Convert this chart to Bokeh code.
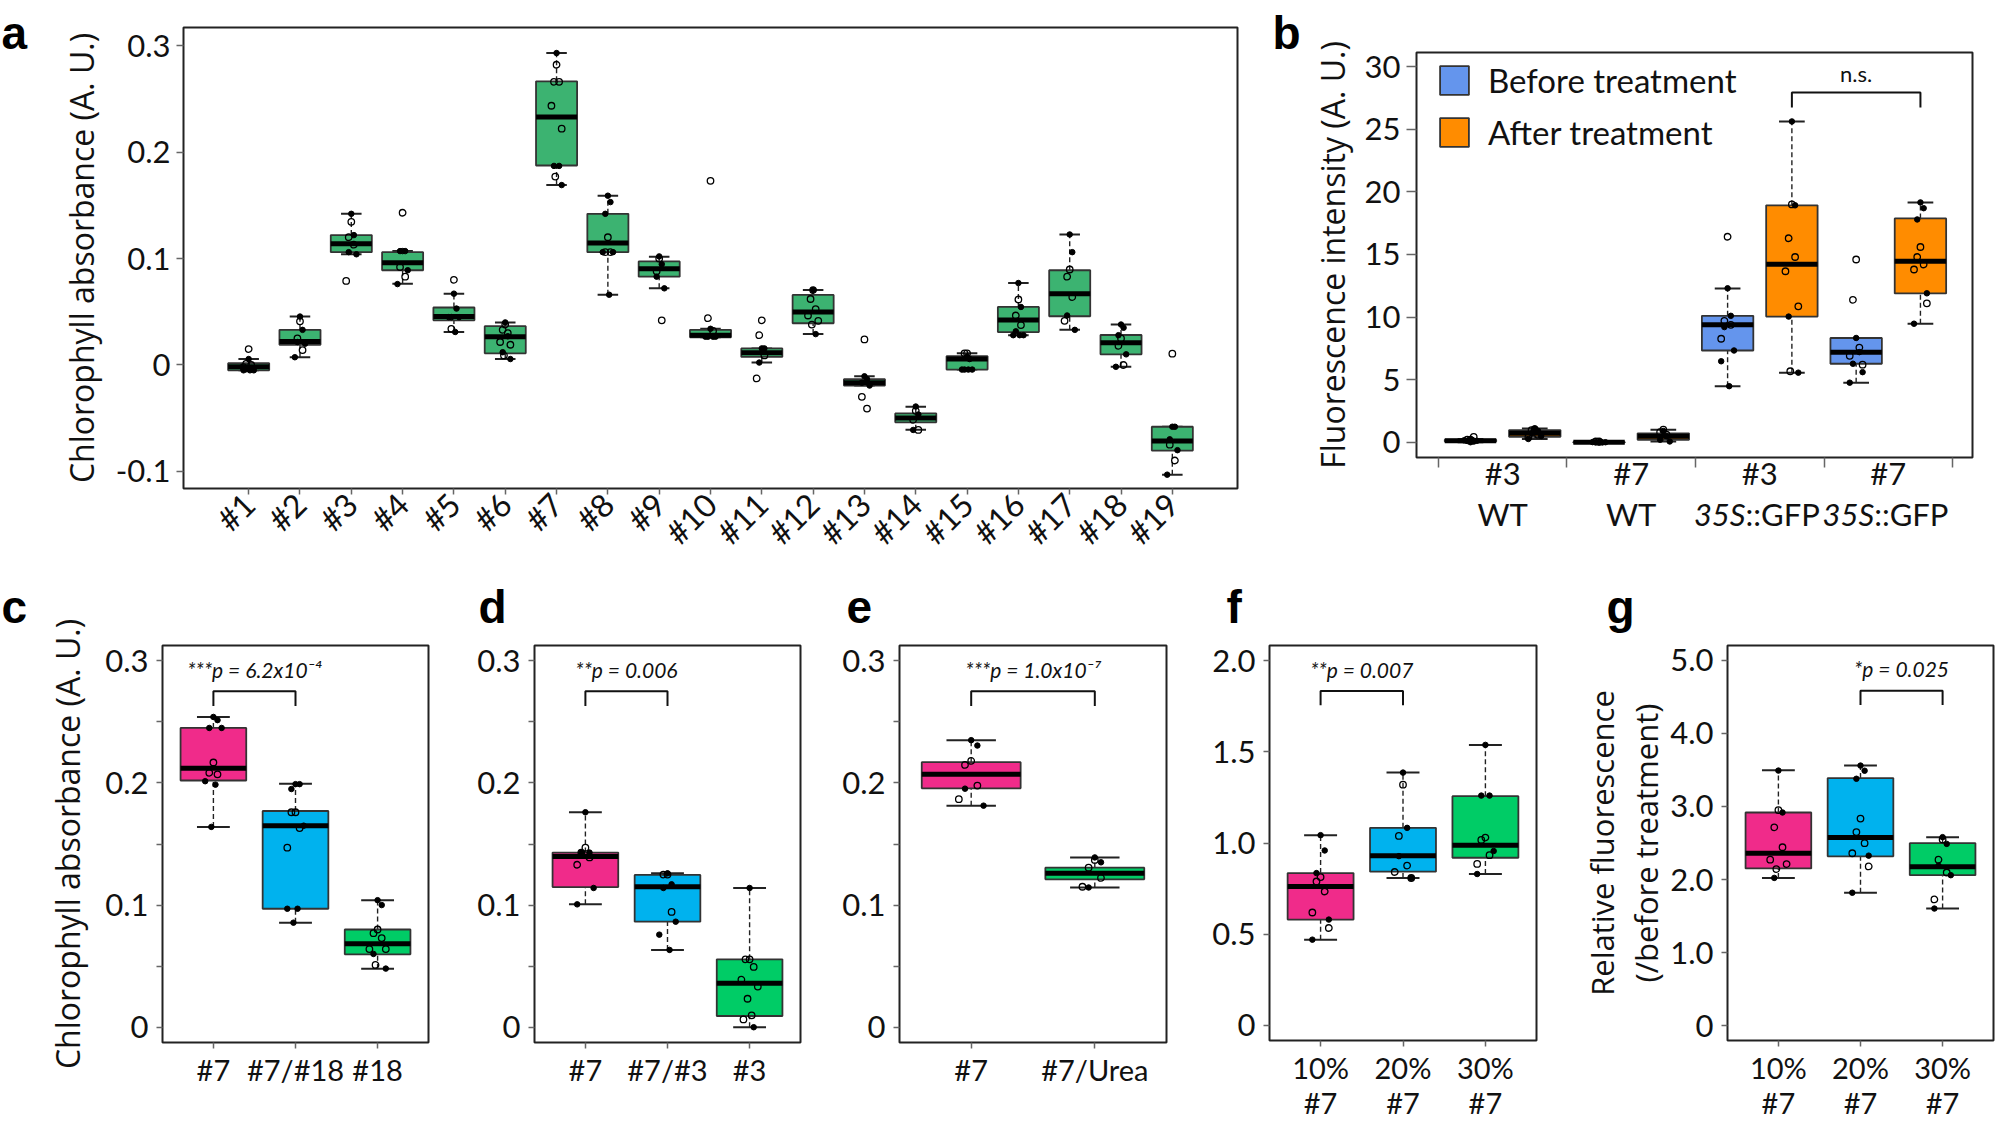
import math
from bokeh.plotting import figure
from bokeh.models import Range1d, FixedTicker, Label, Legend, LegendItem
from bokeh.layouts import row, column
from bokeh.embed import file_html
from bokeh.resources import INLINE
from bokeh.core.properties import value

# ======================= DATA =======================
# ---- panel a ----
A_LABELS = ["#1", "#2", "#3", "#4", "#5", "#6", "#7", "#8", "#9", "#10",
            "#11", "#12", "#13", "#14", "#15", "#16", "#17", "#18", "#19"]
A_LOW = [-0.005, 0.0073, 0.104, 0.0764, 0.031, 0.0056, 0.169, 0.066, 0.072, 0.026,
         0.0023, 0.029, -0.0193, -0.0608, -0.0043, 0.028, 0.0332, -0.0017, -0.103]
A_Q1 = [-0.005, 0.019, 0.106, 0.089, 0.042, 0.011, 0.1874, 0.106, 0.083, 0.026,
        0.0076, 0.0392, -0.0193, -0.0538, -0.0043, 0.0309, 0.0458, 0.010, -0.0804]
A_MED = [-0.0017, 0.022, 0.114, 0.096, 0.0455, 0.0266, 0.233, 0.1146, 0.0904, 0.028,
         0.0116, 0.0498, -0.0166, -0.0498, 0.0056, 0.0422, 0.067, 0.021, -0.0714]
A_Q3 = [0.0017, 0.033, 0.122, 0.106, 0.054, 0.0365, 0.2664, 0.142, 0.0973, 0.033,
        0.0156, 0.0658, -0.0133, -0.0455, 0.0083, 0.0545, 0.089, 0.0282, -0.058]
A_HIGH = [0.0056, 0.0455, 0.142, 0.107, 0.067, 0.040, 0.293, 0.159, 0.1017, 0.034,
          0.0156, 0.0704, -0.0106, -0.0392, 0.011, 0.077, 0.1226, 0.038, -0.058]
A_OPEN = [[0.015, 0.001, 0.0, -0.002], [0.041, 0.025, 0.014], [0.1345, 0.120, 0.113, 0.079],
          [0.143, 0.092, 0.083], [0.080, 0.034], [0.038, 0.033, 0.030, 0.0216, 0.019, 0.009],
          [0.282, 0.266, 0.266, 0.2435, 0.222, 0.177], [0.120, 0.106, 0.106], [0.100, 0.088, 0.042],
          [0.173, 0.044, 0.032], [0.042, 0.028, 0.009, -0.0126], [0.0704, 0.062, 0.0525, 0.0465, 0.0415, 0.038],
          [0.024, -0.0299, -0.0409], [-0.043, -0.0515, -0.061], [0.011, 0.011],
          [0.0615, 0.0465, 0.0375], [0.0897, 0.083, 0.0638, 0.0415], [0.025, 0.018, 0.0],
          [0.0106, -0.0748, -0.0897]]
A_FILLED = [[0.0056, -0.003, -0.004, -0.005, -0.005, -0.005], [0.0455, 0.033, 0.0216, 0.020, 0.0073],
            [0.142, 0.122, 0.106, 0.104], [0.107, 0.107, 0.107, 0.089, 0.076],
            [0.067, 0.053, 0.045, 0.045, 0.045, 0.031], [0.040, 0.027, 0.012, 0.0056],
            [0.293, 0.187, 0.187, 0.169], [0.159, 0.153, 0.142, 0.106, 0.106, 0.066],
            [0.102, 0.0947, 0.083, 0.072], [0.034, 0.0266, 0.0266, 0.0266, 0.0266],
            [0.0156, 0.0156, 0.0023], [0.0704, 0.029], [-0.0106, -0.0133, -0.0166, -0.0193],
            [-0.039, -0.0465, -0.061], [0.008, 0.0056, -0.0043, -0.0043, -0.0043, -0.0043],
            [0.077, 0.0545, 0.0316, 0.028, 0.028, 0.028], [0.1226, 0.106, 0.0465, 0.033],
            [0.038, 0.035, 0.028, 0.010, -0.0017], [-0.058, -0.058, -0.0698, -0.080, -0.103]]
A_YTICKS = [-0.1, 0, 0.1, 0.2, 0.3]
A_YLABELS = ["-0.1", "0", "0.1", "0.2", "0.3"]

# ---- panel b ----
B_GROUP_LINE1 = ["#3", "#7", "#3", "#7"]
B_GROUP_LINE2 = ["WT", "WT", "35S::GFP", "35S::GFP"]
B_BEFORE_LOW = [0.0, -0.03, 4.48, 4.76]
B_BEFORE_Q1 = [0.05, -0.02, 7.33, 6.27]
B_BEFORE_MED = [0.12, 0.0, 9.38, 7.19]
B_BEFORE_Q3 = [0.20, 0.02, 10.1, 8.33]
B_BEFORE_HIGH = [0.25, 0.03, 12.29, 8.33]
B_BEFORE_OPEN = [[0.2, 0.2, 0.43], [0.06, 0.06], [16.42, 9.7, 9.38, 8.27], [14.6, 11.38, 7.56, 6.9, 6.2]]
B_BEFORE_FILLED = [[0.0, 0.05, 0.1, 0.12, 0.15, 0.2], [-0.03, -0.02, 0.0, 0.0, 0.01, 0.02],
                   [12.3, 10.1, 9.2, 7.33, 6.47, 4.48], [8.33, 7.2, 6.27, 5.6, 4.76]]
B_AFTER_LOW = [0.26, 0.06, 5.56, 9.47]
B_AFTER_Q1 = [0.43, 0.20, 10.04, 11.89]
B_AFTER_MED = [0.71, 0.48, 14.23, 14.46]
B_AFTER_Q3 = [0.97, 0.71, 18.93, 17.88]
B_AFTER_HIGH = [1.10, 1.0, 25.63, 19.16]
B_AFTER_OPEN = [[1.05, 0.97, 0.6, 0.4], [1.0, 0.8, 0.6], [19.0, 16.3, 14.8, 13.66, 10.86, 5.67],
                [15.6, 14.8, 14.2, 13.8, 11.1]]
B_AFTER_FILLED = [[1.1, 0.9, 0.71, 0.5, 0.26], [0.9, 0.48, 0.2, 0.06], [25.63, 18.93, 10.04, 5.56],
                  [19.16, 18.7, 17.8, 11.9, 9.47]]
B_YTICKS = [0, 5, 10, 15, 20, 25, 30]
B_NS_Y = [26.75, 27.95]

# ---- panel c ----
C_LABELS = ["#7", "#7/#18", "#18"]
C_LOW = [0.164, 0.0856, 0.0478]
C_Q1 = [0.202, 0.097, 0.0597]
C_MED = [0.212, 0.165, 0.0683]
C_Q3 = [0.245, 0.177, 0.080]
C_HIGH = [0.254, 0.1994, 0.104]
C_OPEN = [[0.2167, 0.2083, 0.207], [0.176, 0.176, 0.163, 0.147], [0.080, 0.077, 0.073, 0.064, 0.064, 0.051]]
C_FILLED = [[0.254, 0.2514, 0.245, 0.245, 0.2014, 0.1986, 0.164], [0.199, 0.199, 0.195, 0.165, 0.097, 0.097, 0.0856],
            [0.104, 0.100, 0.060, 0.048]]
C_P = "***p = 6.2x10\u207b\u2074"

# ---- panel d ----
D_LABELS = ["#7", "#7/#3", "#3"]
D_LOW = [0.1006, 0.0633, 0.0]
D_Q1 = [0.1147, 0.0864, 0.0092]
D_MED = [0.1397, 0.115, 0.0361]
D_Q3 = [0.143, 0.1247, 0.0556]
D_HIGH = [0.176, 0.126, 0.114]
D_OPEN = [[0.147, 0.143, 0.139, 0.133], [0.125, 0.125, 0.0944],
          [0.0556, 0.0556, 0.0494, 0.0389, 0.0333, 0.0233, 0.0097, 0.0064]]
D_FILLED = [[0.176, 0.143, 0.143, 0.114, 0.1006], [0.126, 0.117, 0.114, 0.0864, 0.0758, 0.0633], [0.114, 0.0]]
D_P = "**p = 0.006"

# ---- panel e ----
E_LABELS = ["#7", "#7/Urea"]
E_LOW = [0.1814, 0.1144]
E_Q1 = [0.1956, 0.1211]
E_MED = [0.207, 0.126]
E_Q3 = [0.217, 0.1306]
E_HIGH = [0.235, 0.139]
E_OPEN = [[0.218, 0.2147, 0.1978, 0.1867], [0.137, 0.1306, 0.1222, 0.115]]
E_FILLED = [[0.235, 0.2306, 0.1953, 0.1814], [0.139, 0.135, 0.1144]]
E_P = "***p = 1.0x10\u207b\u2077"

# ---- panel f ----
F_LABELS = ["10%\n#7", "20%\n#7", "30%\n#7"]
F_LOW = [0.4695, 0.808, 0.83]
F_Q1 = [0.58, 0.843, 0.919]
F_MED = [0.7616, 0.93, 0.987]
F_Q3 = [0.835, 1.083, 1.257]
F_HIGH = [1.0425, 1.386, 1.538]
F_OPEN = [[0.813, 0.789, 0.734, 0.619, 0.534], [1.32, 1.039, 0.876, 0.841, 0.808], [1.03, 1.017, 0.933, 0.885]]
F_FILLED = [[1.043, 0.959, 0.835, 0.58, 0.47], [1.386, 1.083, 0.928, 0.808], [1.538, 1.26, 1.26, 0.956, 0.83]]
F_P = "**p = 0.007"

# ---- panel g ----
G_LABELS = ["10%\n#7", "20%\n#7", "30%\n#7"]
G_LOW = [2.023, 1.82, 1.604]
G_Q1 = [2.152, 2.318, 2.06]
G_MED = [2.359, 2.576, 2.175]
G_Q3 = [2.917, 3.387, 2.498]
G_HIGH = [3.493, 3.558, 2.58]
G_OPEN = [[2.95, 2.714, 2.442, 2.272, 2.212, 2.143], [2.834, 2.65, 2.498, 2.36, 2.18], [2.548, 2.272, 2.097, 1.728]]
G_FILLED = [[3.49, 2.917, 2.023], [3.558, 3.488, 3.378, 2.327, 1.82], [2.58, 2.488, 2.189, 2.06, 1.604]]
G_P = "*p = 0.025"

CHL_TICKS = [0, 0.05, 0.1, 0.15, 0.2, 0.25, 0.3]
CHL_TICK_LABELS = ["0", "", "0.1", "", "0.2", "", "0.3"]
F_TICKS = [0, 0.5, 1.0, 1.5, 2.0]
F_TICK_LABELS = ["0", "0.5", "1.0", "1.5", "2.0"]
G_TICKS = [0, 1, 2, 3, 4, 5]
G_TICK_LABELS = ["0", "1.0", "2.0", "3.0", "4.0", "5.0"]

PANEL_LETTERS = ["a", "b", "c", "d", "e", "f", "g"]

# ======================= STYLE / LAYOUT =======================
A_COLOR = "#3CB371"
BEFORE_COLOR = "#6495ED"
AFTER_COLOR = "#FF8C00"
TRIO = ["#F02B8A", "#00B2EE", "#00CC66"]
DUO = ["#F02B8A", "#00CC66"]
TICK_FONT = "Lato"
TITLE_FONT = "Open Sans"
LETTER_FONT = "Liberation Sans"
JIT = [0.0, -0.05, 0.05, -0.1, 0.1, -0.025, 0.025, -0.075, 0.075]
TOTAL_W = 1995
ROW1_H = 568
ROW2_H = 554
TOTAL_H = ROW1_H + ROW2_H
A_W = 1272


def make_fig(w, h, bl, br, bt, bb, xr, yr):
    p = figure(width=w, height=h, min_border_left=bl, min_border_right=br,
               min_border_top=bt, min_border_bottom=bb, title=None,
               x_range=Range1d(*xr), y_range=Range1d(*yr),
               output_backend="svg", toolbar_location=None, tools="")
    p.xgrid.visible = False
    p.ygrid.visible = False
    p.outline_line_color = "#222222"
    p.outline_line_width = 2
    p.outline_line_alpha = 1
    p.background_fill_color = "white"
    p.border_fill_color = None
    for ax in (p.xaxis[0], p.yaxis[0]):
        ax.axis_line_color = None
        ax.major_tick_line_color = "#666666"
        ax.major_tick_line_width = 1.5
        ax.major_tick_in = 0
        ax.major_tick_out = 7
        ax.minor_tick_line_color = None
        ax.major_label_text_font = TICK_FONT
        ax.major_label_text_color = "#111111"
        ax.major_label_text_font_size = "31px"
        ax.axis_label_text_font = TITLE_FONT
        ax.axis_label_text_font_style = "normal"
        ax.axis_label_text_color = "#111111"
        ax.axis_label_text_font_size = "32px"
    spec = dict(fw=w - bl - br, fh=h - bt - bb, bl=bl, bt=bt, xr=xr, yr=yr)
    return p, spec


def data_x_to_canvas(spec, x):
    x0, x1 = spec["xr"]
    return spec["bl"] + (x - x0) / (x1 - x0) * spec["fw"]


def draw_boxes(p, xs, low, q1, med, q3, high, color, opens, filleds, width=0.8):
    half = width / 2
    cap = width / 4
    p.segment(x0=xs, y0=q3, x1=xs, y1=high, line_color="#222222", line_width=1.4, line_dash="5 3")
    p.segment(x0=xs, y0=low, x1=xs, y1=q1, line_color="#222222", line_width=1.4, line_dash="5 3")
    p.segment(x0=[x - cap for x in xs], y0=high, x1=[x + cap for x in xs], y1=high,
              line_color="#222222", line_width=2)
    p.segment(x0=[x - cap for x in xs], y0=low, x1=[x + cap for x in xs], y1=low,
              line_color="#222222", line_width=2)
    r = p.vbar(x=xs, bottom=q1, top=q3, width=width, fill_color=color,
               line_color="#333333", line_width=1.8)
    p.segment(x0=[x - half for x in xs], y0=med, x1=[x + half for x in xs], y1=med,
              line_color="black", line_width=5)
    ox, oy, fx, fy = [], [], [], []
    for x, vals in zip(xs, opens):
        for i, v in enumerate(vals):
            ox.append(x + JIT[i % len(JIT)])
            oy.append(v)
    for x, vals in zip(xs, filleds):
        for i, v in enumerate(vals):
            fx.append(x - JIT[i % len(JIT)])
            fy.append(v)
    p.scatter(ox, oy, marker="circle", size=6.5, fill_color=None, line_color="black", line_width=1.3)
    p.scatter(fx, fy, marker="circle", size=5.5, fill_color="black", line_color="black")
    return r


def bracket(p, xa, xb, ylow, ytop, txt, ytxt):
    p.line(x=[xa, xa, xb, xb], y=[ylow, ytop, ytop, ylow], line_color="#111111", line_width=2)
    p.add_layout(Label(x=(xa + xb) / 2, y=ytxt, text=txt, text_font=TICK_FONT,
                       text_font_style="italic", text_font_size="21px", text_color="#111111",
                       text_align="center", text_baseline="alphabetic"))


# ======================= PANEL A =======================
pa, sa = make_fig(A_W, ROW1_H, 183, 35, 27, 75, (-0.27, 20.27), (-0.116, 0.317))
a_x = list(range(1, len(A_LABELS) + 1))
draw_boxes(pa, a_x, A_LOW, A_Q1, A_MED, A_Q3, A_HIGH, A_COLOR, A_OPEN, A_FILLED)
pa.xaxis.ticker = FixedTicker(ticks=a_x)
pa.xaxis.major_label_overrides = {x: l for x, l in zip(a_x, A_LABELS)}
pa.xaxis.major_label_orientation = math.pi / 4
pa.xaxis.major_label_text_font_size = "32px"
pa.xaxis.major_tick_out = 6
pa.xaxis.major_label_standoff = 4
pa.yaxis.ticker = FixedTicker(ticks=A_YTICKS)
pa.yaxis.major_label_overrides = {t: l for t, l in zip(A_YTICKS, A_YLABELS)}
pa.yaxis.major_label_standoff = 6
pa.yaxis.axis_label = "Chlorophyll absorbance (A. U.)"
pa.yaxis.axis_label_standoff = 10

# ======================= PANEL B =======================
pb, sb = make_fig(TOTAL_W - A_W, ROW1_H, 144, 23, 52, 111, (0.16, 8.81), (-1.22, 31.14))
nb = len(B_GROUP_LINE1)
xb_before = [2 * i + 1 for i in range(nb)]
xb_after = [2 * i + 2 for i in range(nb)]
rb = draw_boxes(pb, xb_before, B_BEFORE_LOW, B_BEFORE_Q1, B_BEFORE_MED, B_BEFORE_Q3, B_BEFORE_HIGH,
                BEFORE_COLOR, B_BEFORE_OPEN, B_BEFORE_FILLED)
ra = draw_boxes(pb, xb_after, B_AFTER_LOW, B_AFTER_Q1, B_AFTER_MED, B_AFTER_Q3, B_AFTER_HIGH,
                AFTER_COLOR, B_AFTER_OPEN, B_AFTER_FILLED)
pb.xaxis.ticker = FixedTicker(ticks=[2 * i + 0.5 for i in range(nb + 1)])
pb.xaxis.major_label_text_color = None
pb.xaxis.major_tick_out = 10
pb.yaxis.ticker = FixedTicker(ticks=B_YTICKS)
pb.yaxis.major_tick_out = 10
pb.yaxis.major_label_standoff = 6
pb.yaxis.axis_label = "Fluorescence intensity (A. U.)"
pb.yaxis.axis_label_standoff = 8
pb.line(x=[6, 6, 8, 8], y=[B_NS_Y[0], B_NS_Y[1], B_NS_Y[1], B_NS_Y[0]], line_color="#111111", line_width=2)
pb.add_layout(Label(x=7, y=29.45, text="n.s.", text_font=TICK_FONT, text_font_size="22px",
                    text_color="#111111", text_align="center", text_baseline="alphabetic"))
legend = Legend(items=[LegendItem(label="Before treatment", renderers=[rb]),
                       LegendItem(label="After treatment", renderers=[ra])],
                location=(20, 305), orientation="vertical", glyph_width=36, glyph_height=36,
                label_height=36, spacing=12, padding=0, margin=0, label_standoff=16,
                label_text_font=TICK_FONT, label_text_font_size="33px", label_text_color="#111111",
                border_line_color=None, background_fill_alpha=0)
pb.add_layout(legend)


# ======================= BOTTOM ROW =======================
def bottom_fig(w, bl, br, xr, yr, labels, ticks, tick_labels):
    p, s = make_fig(w, ROW2_H, bl, br, 77, 80, xr, yr)
    xs = list(range(1, len(labels) + 1))
    p.xaxis.ticker = FixedTicker(ticks=xs)
    p.xaxis.major_label_overrides = {x: l for x, l in zip(xs, labels)}
    p.xaxis.major_tick_out = 6
    p.xaxis.major_label_standoff = 3
    p.xaxis.major_label_text_font_size = "29px"
    p.xaxis.major_label_text_line_height = 1.0
    p.yaxis.ticker = FixedTicker(ticks=ticks)
    p.yaxis.major_label_overrides = {t: l for t, l in zip(ticks, tick_labels)}
    p.yaxis.major_tick_out = 6
    p.yaxis.major_label_standoff = 8
    return p, s, xs


pc, sc, xc = bottom_fig(438, 162, 10, (0.38, 3.62), (-0.0125, 0.3125), C_LABELS, CHL_TICKS, CHL_TICK_LABELS)
draw_boxes(pc, xc, C_LOW, C_Q1, C_MED, C_Q3, C_HIGH, TRIO, C_OPEN, C_FILLED)
bracket(pc, 1, 2, 0.263, 0.275, C_P, 0.293)
pc.yaxis.axis_label = "Chlorophyll absorbance (A. U.)"
pc.yaxis.axis_label_standoff = 13

pd_, sd, xd = bottom_fig(372, 96, 10, (0.38, 3.62), (-0.0125, 0.3125), D_LABELS, CHL_TICKS, CHL_TICK_LABELS)
draw_boxes(pd_, xd, D_LOW, D_Q1, D_MED, D_Q3, D_HIGH, TRIO, D_OPEN, D_FILLED)
bracket(pd_, 1, 2, 0.263, 0.275, D_P, 0.293)

pe, se, xe = bottom_fig(366, 89, 10, (0.42, 2.58), (-0.0125, 0.3125), E_LABELS, CHL_TICKS, CHL_TICK_LABELS)
draw_boxes(pe, xe, E_LOW, E_Q1, E_MED, E_Q3, E_HIGH, DUO, E_OPEN, E_FILLED)
bracket(pe, 1, 2, 0.263, 0.275, E_P, 0.293)

pf, sf, xf = bottom_fig(370, 93, 10, (0.38, 3.62), (-0.083, 2.083), F_LABELS, F_TICKS, F_TICK_LABELS)
draw_boxes(pf, xf, F_LOW, F_Q1, F_MED, F_Q3, F_HIGH, TRIO, F_OPEN, F_FILLED)
bracket(pf, 1, 2, 1.756, 1.834, F_P, 1.953)

pg, sg, xg = bottom_fig(449, 181, 2, (0.38, 3.62), (-0.2, 5.2), G_LABELS, G_TICKS, G_TICK_LABELS)
draw_boxes(pg, xg, G_LOW, G_Q1, G_MED, G_Q3, G_HIGH, TRIO, G_OPEN, G_FILLED)
bracket(pg, 2, 3, 4.388, 4.583, G_P, 4.88)
pg.yaxis.axis_label = "Relative fluorescence\n(/before treatment)"
pg.yaxis.axis_label_standoff = 0
pg.yaxis.axis_label_text_font_size = "31px"
pg.yaxis.axis_label_text_line_height = 1.05

# ======================= UNDERLAY (texts outside the plot frames) =======================
ov = figure(width=TOTAL_W, height=TOTAL_H, x_range=Range1d(0, TOTAL_W), y_range=Range1d(TOTAL_H, 0),
            min_border_left=0, min_border_right=0, min_border_top=0, min_border_bottom=0,
            x_axis_location=None, y_axis_location=None, title=None,
            output_backend="svg", toolbar_location=None, tools="")
ov.xgrid.grid_line_color = None
ov.ygrid.grid_line_color = None
ov.outline_line_color = None
ov.background_fill_color = None
ov.border_fill_color = None
ov.margin = (0, 0, -TOTAL_H, 0)

# panel letters (page pixels)
LETTER_X = [1, 1272, 1, 478, 846, 1226, 1606]
LETTER_Y = [32, 32, 606, 606, 606, 606, 606]
ov.text(x=LETTER_X, y=LETTER_Y, text=PANEL_LETTERS, text_font=value(LETTER_FONT),
        text_font_style="bold", text_font_size="46px", text_color="black",
        text_align="left", text_baseline="alphabetic")

# panel b group labels (two lines, "35S" in italics)
B_LINE1_Y = 472
B_LINE2_Y = 513
l1x, l1t, c2x, c2t, rx, rt, lx, lt = [], [], [], [], [], [], [], []
for i in range(nb):
    cxd = 2 * i + 1.5
    cx = A_W + data_x_to_canvas(sb, cxd)
    l1x.append(cx)
    l1t.append(B_GROUP_LINE1[i])
    l2 = B_GROUP_LINE2[i]
    if "::" in l2:
        head, tail = l2.split("::", 1)
        sx = A_W + data_x_to_canvas(sb, cxd - 0.22)
        rx.append(sx)
        rt.append(head)
        lx.append(sx)
        lt.append("::" + tail)
    else:
        c2x.append(cx)
        c2t.append(l2)
ov.text(x=l1x, y=[B_LINE1_Y] * len(l1x), text=l1t, text_font=value(TICK_FONT), text_font_size="31px",
        text_color="#111111", text_align="center", text_baseline="alphabetic")
ov.text(x=c2x, y=[B_LINE2_Y] * len(c2x), text=c2t, text_font=value(TICK_FONT), text_font_size="31px",
        text_color="#111111", text_align="center", text_baseline="alphabetic")
ov.text(x=rx, y=[B_LINE2_Y] * len(rx), text=rt, text_font=value(TICK_FONT), text_font_style="italic",
        text_font_size="31px", text_color="#111111", text_align="right", text_baseline="alphabetic")
ov.text(x=lx, y=[B_LINE2_Y] * len(lx), text=lt, text_font=value(TICK_FONT), text_font_size="31px",
        text_color="#111111", text_align="left", text_baseline="alphabetic")

layout = column(ov,
                row(column(pa), column(pb)),
                row(column(pc), column(pd_), column(pe), column(pf), column(pg)))
open("out.html", "w").write(file_html(layout, INLINE, title="chart"))
